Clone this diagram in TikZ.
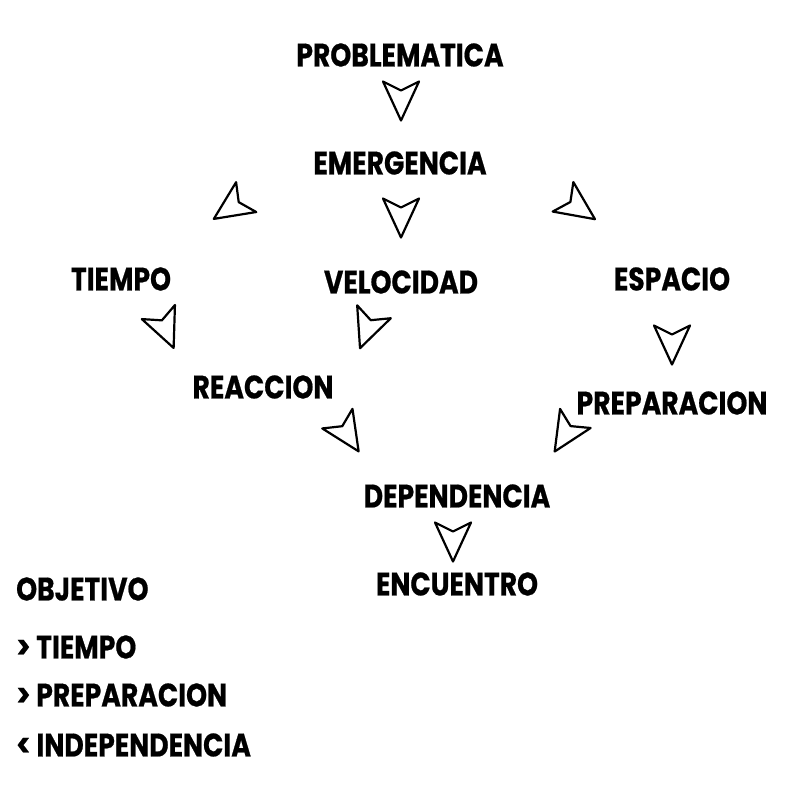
\documentclass[tikz,border=0pt]{standalone}
\usepackage{fontspec}
\newfontfamily\lblfont{Poppins}[FakeStretch=0.82, FakeBold=0.6]
\tikzset{
  lbl/.style={font=\lblfont\bfseries\fontsize{32.5}{32.5}\selectfont, inner sep=0pt},
  dart/.pic={
    \draw[line width=2.2pt, line join=round]
      (19.5pt,0) -- (-19.5pt,18pt) -- (-10.5pt,0) -- (-19.5pt,-18pt) -- cycle;
  }
}
\begin{document}
\begin{tikzpicture}[x=1pt, y=-1pt]
    \useasboundingbox (0,0) rectangle (801,800);

    % Cadena principal
    \node[lbl] (prob) at (400,55) {PROBLEMATICA};
    \node[lbl] (emer) at (400,163) {EMERGENCIA};
    \node[lbl] (tiempo) at (121,279) {TIEMPO};
    \node[lbl] (velo) at (401,282) {VELOCIDAD};
    \node[lbl] (espacio) at (672,279) {ESPACIO};
    \node[lbl] (reac) at (263,387) {REACCION};
    \node[lbl] (prep) at (672,403) {PREPARACION};
    \node[lbl] (dep) at (457,496) {DEPENDENCIA};
    \node[lbl] (enc) at (457,584) {ENCUENTRO};

    % Flechas
    \foreach \src/\dx/\dy/\ang in {prob/1/46/-90, emer/1/55/-90, emer/-170/45/214,
        emer/179/45/-35, tiempo/45/51/-67, velo/-34/48/-111, espacio/0/66/-90,
        reac/85/48/-57, prep/-107/32/-122, dep/-4/46/-90}
      \pic[rotate=\ang] at ([shift={(\dx,\dy)}]\src) {dart};

    % Objetivo
    \node[lbl, anchor=west] (obj) at (16,589) {OBJETIVO};
    \node[lbl, anchor=west] (obj1) at (16,647) {> TIEMPO};
    \node[lbl, anchor=west] (obj2) at (16,695) {> PREPARACION};
    \node[lbl, anchor=west] (obj3) at (16,745) {< INDEPENDENCIA};
\end{tikzpicture}
\end{document}
